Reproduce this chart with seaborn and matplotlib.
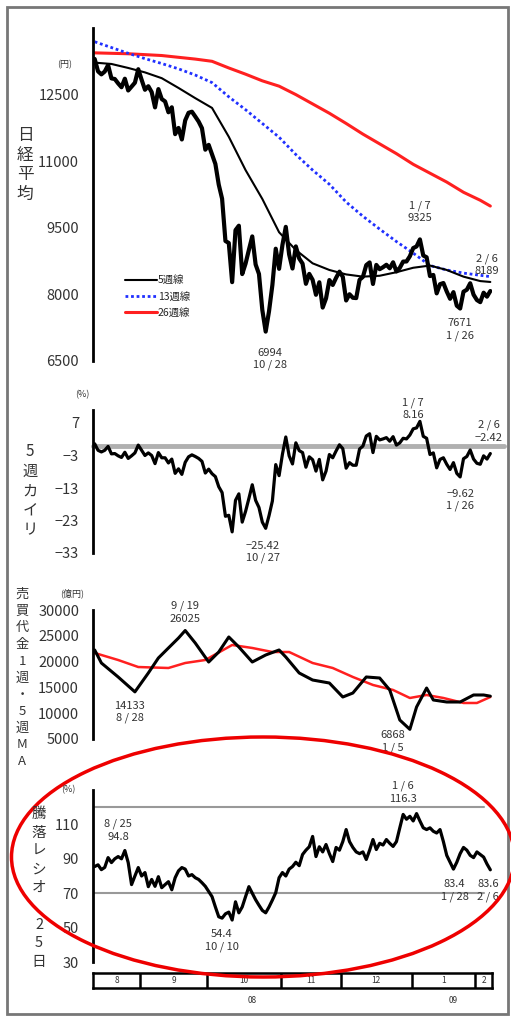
import numpy as np
import matplotlib
matplotlib.use("Agg")
import matplotlib.pyplot as plt
from matplotlib.patches import Rectangle, Ellipse
from matplotlib.lines import Line2D
import seaborn as sns

sns.set_style("white")
plt.rcParams['font.family'] = ['Noto Sans CJK JP', 'DejaVu Sans']

# trading days 2008/8/12 - 2009/2/6
month_labels = ["8", "9", "10", "11", "12", "1", "2"]
month_days = [14, 20, 22, 18, 21, 19, 5]

nikkei = [13303, 13023, 12956, 13019, 13165, 12865, 12851, 12752, 12666, 12858, 12593, 12680, 12768, 13072,
          12834, 12609, 12689, 12557, 12212, 12624, 12400, 12346, 12102, 12214, 11609, 11749, 11489, 11920,
          12090, 12115, 12006, 11893, 11743, 11259,
          11368, 11154, 10938, 10473, 10155, 9203, 9157, 8276, 9447, 9547, 8458, 8693, 9005, 9306, 8674, 8460,
          7649, 7162, 7621, 8211, 9029, 8576,
          9114, 9521, 8899, 8583, 9081, 8809, 8693, 8238, 8462, 8328, 7991, 8273, 7703, 7910, 8323, 8213, 8373, 8512,
          8397, 7863, 8004, 7924, 7917, 8329, 8395, 8660, 8720, 8235, 8664, 8568, 8612, 8667, 8588, 8723, 8517,
          8599, 8739, 8742, 8859,
          9043, 9080, 9239, 8876, 8836, 8413, 8438, 8023, 8230, 8256, 8065, 7901, 8051, 7745, 7682, 8061, 8106,
          8251, 7994,
          7873, 7825, 8038, 7949, 8076]

ma_idx = [0, 5, 10, 15, 20, 25, 30, 35, 40, 45, 50, 55, 60, 65, 70, 75, 80, 85, 90, 95, 100, 105, 110, 115, 118]
ma5 = [13220, 13190, 13100, 13000, 12870, 12650, 12420, 12200, 11550, 10800, 10150, 9400, 9000, 8700, 8550,
       8450, 8400, 8420, 8500, 8600, 8650, 8550, 8400, 8300, 8280]
ma13 = [13690, 13560, 13430, 13310, 13200, 13080, 12940, 12770, 12450, 12160, 11850, 11540, 11150, 10800, 10480,
        10080, 9760, 9470, 9190, 8930, 8650, 8550, 8480, 8430, 8400]
ma26 = [13440, 13430, 13420, 13400, 13380, 13340, 13300, 13250, 13100, 12960, 12810, 12690, 12500, 12290, 12080,
        11850, 11610, 11390, 11170, 10930, 10730, 10530, 10300, 10120, 9990]

kairi = [0.6, -1.4, -1.9, -1.4, -0.2, -2.5, -2.4, -3.1, -3.6, -2.0, -3.9, -3.1, -2.2, 0.2,
         -1.4, -3.0, -2.2, -3.0, -5.5, -2.1, -3.7, -3.7, -5.3, -4.1, -8.5, -7.1, -8.8, -5.1, -3.4, -2.8, -3.3,
         -3.9, -4.8, -8.4,
         -7.2, -8.6, -9.5, -12.6, -14.4, -21.7, -21.4, -26.5, -16.8, -14.8, -23.5, -20.2, -16.2, -12.0, -16.8,
         -19.0, -23.5, -25.4, -21.5, -17.0, -5.8, -9.2,
         -2.6, 2.7, -3.1, -5.6, 0.9, -1.5, -2.1, -6.6, -3.4, -4.3, -7.8, -4.2, -10.5, -7.8, -2.7, -3.7, -1.6, 0.3,
         -0.9, -6.9, -5.2, -6.0, -6.0, -1.0, -0.1, 3.0, 3.7, -2.1, 2.9, 1.8, 2.1, 2.5, 1.4, 2.8, 0.2, 0.9, 2.3,
         2.1, 3.3,
         5.2, 5.5, 7.5, 2.9, 2.3, -2.7, -2.2, -6.8, -4.2, -3.7, -5.7, -7.3, -5.2, -8.5, -9.6, -4.0, -3.3, -1.3, -4.1,
         -5.4, -5.7, -3.1, -4.1, -2.4]

vol_idx = [0, 2, 7, 12, 16, 19, 22, 25, 27, 30, 34, 37, 40, 43, 47, 51, 55, 57, 61, 65, 70, 74, 77, 81, 85, 88,
           91, 94, 96, 99, 101, 105, 109, 113, 116, 118]
vol_1w = [22250, 19730, 17020, 14133, 17790, 20700, 22640, 24570, 26025, 23600, 19920, 21860, 24770, 22830, 19920,
          21280, 22250, 20890, 17790, 16430, 15850, 13140, 13910, 17020, 16820, 14500, 8680, 6868, 11200, 14880,
          12560, 12170, 12170, 13530, 13530, 13300]
vma_idx = [0, 7, 13, 22, 27, 33, 41, 47, 53, 58, 65, 71, 77, 83, 89, 94, 99, 104, 110, 114, 118]
vol_5w = [21670, 20310, 18950, 18760, 19730, 20310, 23220, 22640, 21860, 21860, 19730, 18760, 17020, 15470, 14500,
          12950, 13530, 12950, 11980, 11980, 13140]

toraku = [85.5, 86.5, 83.7, 85, 90.7, 87.8, 90, 91.3, 90, 94.8, 87.8, 75, 80, 84.9,
          80, 82, 73.8, 78, 74, 79.6, 73.2, 75, 76.7, 72, 79, 83, 84.9, 84, 80, 80.8, 79, 78, 76.1, 74,
          71, 68, 62, 56.3, 55.5, 58, 59, 54.4, 65, 58.6, 62, 68, 73.8, 70, 66.2, 63, 60, 58.6, 62, 66, 70.3, 79,
          82, 80, 84, 85.5, 88, 86, 92.5, 95, 97, 103, 91.3, 97, 94, 98.3, 93, 88.4, 96.6, 95,
          100, 107, 100, 96.6, 94, 93, 94, 89.6, 95, 101.2, 95.4, 99, 98, 101.2, 99, 97.2, 100, 108, 115.8, 113, 114.7,
          112, 116.3, 112, 108, 107, 108, 106, 105, 107, 100, 92, 88, 84, 88, 93, 96.6, 95, 92, 90.7,
          94, 92.5, 91, 87, 83.6]

W, H = 511, 1018
days = np.arange(len(nikkei))
bounds = np.cumsum(month_days) - 0.5
starts = np.concatenate([[-0.5], bounds[:-1]])
XL = (-0.5, len(nikkei) - 0.5)


def box(x0, y0, x1, y1):
    return [x0 / W, 1 - y1 / H, (x1 - x0) / W, (y1 - y0) / H]


def style(ax, ylim, ticks, labels):
    ax.set_xlim(*XL)
    ax.set_ylim(*ylim)
    for s in ["top", "right", "bottom"]:
        ax.spines[s].set_visible(False)
    ax.spines["left"].set_linewidth(2)
    ax.spines["left"].set_color("black")
    ax.set_xticks([])
    ax.set_yticks(ticks)
    ax.set_yticklabels(labels)
    ax.tick_params(axis="y", direction="in", length=4, width=1.5, pad=10, labelsize=10.5, labelcolor="#333")
    ax.patch.set_alpha(0)
    ax.set_xlabel("")
    ax.set_ylabel("")


def note(ax, x, y, s, ha="center"):
    ax.text(x, y, s, ha=ha, va="center", fontsize=8, color="#333", linespacing=1.3)


fig = plt.figure(figsize=(W / 100, H / 100), dpi=100)

# panel 1: Nikkei average
ax1 = fig.add_axes(box(93, 28, 492, 361))
sns.lineplot(x=ma_idx, y=ma26, ax=ax1, color="#ff2020", lw=2.2)
sns.lineplot(x=ma_idx, y=ma13, ax=ax1, color="#2030ff", lw=2.0, linestyle=(0, (1, 1)))
sns.lineplot(x=ma_idx, y=ma5, ax=ax1, color="black", lw=1.5)
sns.lineplot(x=days, y=nikkei, ax=ax1, color="black", lw=3)
style(ax1, (6500, 14000), [6500, 8000, 9500, 11000, 12500, 14000],
      ["6500", "8000", "9500", "11000", "12500", ""])
note(ax1, 97, 9860, "1 / 7\n9325")
note(ax1, 117, 8670, "2 / 6\n8189")
note(ax1, 52.3, 6545, "6994\n10 / 28")
note(ax1, 109, 7215, "7671\n1 / 26")
handles = [Line2D([], [], color="black", lw=1.5),
           Line2D([], [], color="#2030ff", lw=2.0, linestyle=(0, (1, 1))),
           Line2D([], [], color="#ff2020", lw=2.2)]
ax1.legend(handles, ["5週線", "13週線", "26週線"], loc="upper left", bbox_to_anchor=(116 / W, 1 - 266 / H),
           bbox_transform=fig.transFigure, frameon=False, fontsize=7.5, handlelength=3.0,
           handletextpad=0.1, labelspacing=0.6)

# panel 2: 5-week deviation
ax2 = fig.add_axes(box(93, 410, 492, 553))
ax2.axhline(0, xmin=0, xmax=1.03, color="#b0b0b0", lw=3.5, clip_on=False)
sns.lineplot(x=days, y=kairi, ax=ax2, color="black", lw=2.3)
style(ax2, (-33, 11), [-33, -23, -13, -3, 7], ["\u221233", "\u221223", "\u221213", "\u22123", "7"])
note(ax2, 94.9, 11.3, "1 / 7\n8.16")
note(ax2, 117.5, 4.5, "2 / 6\n\u22122.42")
note(ax2, 50.2, -32.7, "\u221225.42\n10 / 27")
note(ax2, 109, -16.7, "\u22129.62\n1 / 26")

# panel 3: trading value
ax3 = fig.add_axes(box(93, 610, 492, 739))
sns.lineplot(x=vma_idx, y=vol_5w, ax=ax3, color="#ff2020", lw=1.8)
sns.lineplot(x=vol_idx, y=vol_1w, ax=ax3, color="black", lw=2.2)
style(ax3, (5000, 30000), [5000, 10000, 15000, 20000, 25000, 30000],
      ["5000", "10000", "15000", "20000", "25000", "30000"])
note(ax3, 27, 29600, "9 / 19\n26025")
note(ax3, 10.5, 10230, "14133\n8 / 28")
note(ax3, 89, 4600, "6868\n1 / 5")

# panel 4: advance/decline ratio
ax4 = fig.add_axes(box(93, 790, 492, 962))
ax4.axhline(120, xmax=0.98, color="#999999", lw=1.5)
ax4.axhline(70, xmax=0.98, color="#999999", lw=1.5)
sns.lineplot(x=days, y=toraku, ax=ax4, color="black", lw=2.3)
style(ax4, (30, 130), [30, 50, 70, 90, 110, 130], ["30", "50", "70", "90", "110", ""])
note(ax4, 7, 106.5, "8 / 25\n94.8")
note(ax4, 92, 128.7, "1 / 6\n116.3")
note(ax4, 38, 42.3, "54.4\n10 / 10")
note(ax4, 107.4, 71.4, "83.4\n1 / 28")
note(ax4, 117.4, 71.4, "83.6\n2 / 6")

# month bar
axm = fig.add_axes(box(93, 973, 492, 988))
axm.set_xlim(*XL)
axm.set_ylim(0, 1)
axm.set_xticks([])
axm.set_yticks([])
for s in axm.spines.values():
    s.set_linewidth(1.8)
    s.set_color("black")
for b in bounds[:-1]:
    axm.axvline(b, color="black", lw=1.8)
for st, b, lab in zip(starts, bounds, month_labels):
    axm.text((st + b) / 2, 0.5, lab, ha="center", va="center", fontsize=6, color="#333")
axm.text(47, -0.55, "08", ha="center", va="top", fontsize=6, color="#333")
axm.text(107, -0.55, "09", ha="center", va="top", fontsize=6, color="#333")

# vertical axis titles and units
def vtext(x, y, s, size, ls=1.2):
    fig.text(x / W, 1 - y / H, "\n".join(s), ha="center", va="center", fontsize=size,
             color="#333", linespacing=ls)


vtext(25, 165, "日経平均", 12)
vtext(30, 491, "5週カイリ", 11)
vtext(22, 678, "売買代金1週・5週MA", 9.5, 1.37)
vtext(39, 888, "騰落レシオ 25日", 10.5, 1.4)
fig.text(65 / W, 1 - 65 / H, "(円)", ha="center", va="center", fontsize=6.5, color="#333")
fig.text(82 / W, 1 - 395 / H, "(%)", ha="center", va="center", fontsize=6.5, color="#333")
fig.text(72 / W, 1 - 593 / H, "(億円)", ha="center", va="center", fontsize=6.5, color="#333")
fig.text(68 / W, 1 - 790 / H, "(%)", ha="center", va="center", fontsize=6.5, color="#333")

# outer frame and red ellipse
fig.patches.append(Rectangle((7 / W, 1 - 1014 / H), 501 / W, 1007 / H, transform=fig.transFigure,
                             fill=False, ec="#777777", lw=2))
fig.patches.append(Ellipse((263 / W, 1 - 857 / H), 503 / W, 240 / H, transform=fig.transFigure,
                           fill=False, ec="#ee0000", lw=2.5))

fig.savefig("out.png", dpi=100)
